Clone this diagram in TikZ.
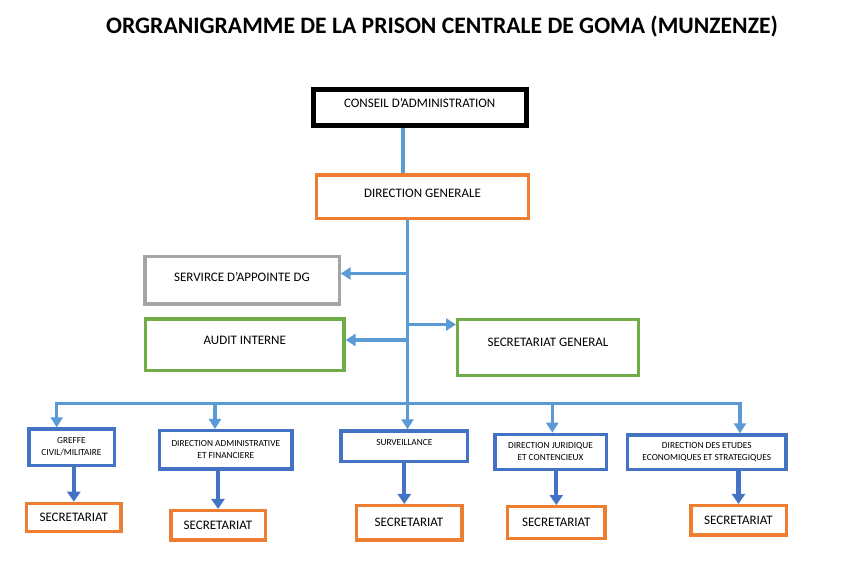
\documentclass[tikz,border=0pt]{standalone}
\usepackage{fontspec}
\setmainfont{Carlito}
\usetikzlibrary{arrows.meta}
\definecolor{bleuclair}{HTML}{5B9BD5}
\definecolor{bleufonce}{HTML}{4472C4}
\definecolor{orange}{HTML}{ED7D31}
\definecolor{vert}{HTML}{70AD47}
\definecolor{gris}{HTML}{A5A5A5}
\tikzset{boite/.style={draw,rectangle,inner sep=0pt,line width=3.2pt,align=center,font=\fontsize{13}{15}\selectfont}}

\begin{document}
\begin{tikzpicture}[x=1pt,y=-1pt,
    petite/.style={font=\fontsize{9.3}{12}\selectfont},
    haut/.style={text height=8.4pt,text depth=#1},
    lien/.style={draw=bleuclair,line width=3.2pt,line cap=rect},
    fleche/.style={draw=bleuclair,line width=3.2pt,-{Triangle[width=12pt,length=10pt]}},
    grosse/.style={draw=bleufonce,line width=4.2pt,-{Triangle[width=13pt,length=10pt]}}]
    \useasboundingbox (0,0) rectangle (862,573);
    \node[anchor=base,font=\fontsize{23.6}{26}\selectfont\bfseries] (titre) at (442,33.3)
        {ORGRANIGRAMME DE LA PRISON CENTRALE DE GOMA (MUNZENZE)};
    % sommet
    \node[boite,line width=5pt,minimum width=213,minimum height=36.6,haut=9pt] (conseil) at (419.7,107.5) {CONSEIL D’ADMINISTRATION};
    \node[boite,draw=orange,minimum width=211.8,minimum height=43.5,haut=7pt] (dg) at (422.5,196.7) {DIRECTION GENERALE};
    % services rattaches
    \node[boite,draw=gris,minimum width=194.2,minimum height=47.5,haut=6pt] (appui) at (242,280.3) {SERVIRCE D’APPOINTE DG};
    \node[boite,draw=vert,minimum width=198.5,minimum height=51.8,haut=9pt] (audit) at (244.8,344.8) {AUDIT INTERNE};
    \node[boite,draw=vert,minimum width=180.8,minimum height=55.8,haut=10pt] (sg) at (548,347.2) {SECRETARIAT GENERAL};
    % directions
    \node[boite,petite,draw=bleufonce,minimum width=85.2,minimum height=36.2] (greffe) at (71.5,447) {GREFFE\\CIVIL/MILITAIRE};
    \node[boite,petite,draw=bleufonce,minimum width=132.5,minimum height=38.5] (daf) at (225.8,449.8) {DIRECTION ADMINISTRATIVE\\ET FINANCIERE};
    \node[boite,petite,draw=bleufonce,minimum width=126.8,minimum height=30.8,text height=6pt,text depth=8.6pt] (surv) at (404.3,446.3) {SURVEILLANCE};
    \node[boite,petite,draw=bleufonce,minimum width=111.2,minimum height=34.8] (djc) at (550.5,451.7) {DIRECTION JURIDIQUE\\ET CONTENCIEUX};
    \node[boite,petite,draw=bleufonce,minimum width=158.5,minimum height=34.2] (dees) at (706.8,452) {DIRECTION DES ETUDES\\ECONOMIQUES ET STRATEGIQUES};
    % secretariats
    \node[boite,draw=orange,minimum width=94.5,minimum height=27.8] (s1) at (73.8,517.2) {SECRETARIAT};
    \node[boite,draw=orange,minimum width=94.2,minimum height=29.5] (s2) at (218,525.3) {SECRETARIAT};
    \node[boite,draw=orange,minimum width=105.8,minimum height=34.5] (s3) at (409,522.8) {SECRETARIAT};
    \node[boite,draw=orange,minimum width=97.5,minimum height=31.8] (s4) at (556.3,522.5) {SECRETARIAT};
    \node[boite,draw=orange,minimum width=95.2,minimum height=29.5] (s5) at (738.5,520.3) {SECRETARIAT};
    % axes et embranchements
    \coordinate (axeh) at (403,0);
    \coordinate (axe) at (407.5,0);
    \coordinate (b1) at (407.5,273.5);
    \coordinate (b2) at (407.5,340);
    \coordinate (b3) at (407.5,324.5);
    \coordinate (bg) at (56.7,403.7);
    \coordinate (b4) at (215,403.7);
    \coordinate (b5) at (552.3,403.7);
    \coordinate (bd) at (740,403.7);
    \draw[lien,line cap=butt] (conseil.south -| axeh) -- (dg.north -| axeh);
    \draw[fleche] (dg.south -| axe) -- (surv.north -| axe);
    \draw[fleche] (b1) -- (b1 -| appui.east);
    \draw[fleche] (b2) -- (b2 -| audit.east);
    \draw[fleche] (b3) -- (b3 -| sg.west);
    \draw[lien] (bg) -- (bd);
    \draw[fleche] (bg) -- (bg |- greffe.north);
    \draw[fleche] (b4) -- (b4 |- daf.north);
    \draw[fleche] (b5) -- (b5 |- djc.north);
    \draw[fleche] (bd) -- (bd |- dees.north);
    % vers les secretariats
    \draw[grosse] (greffe.south -| s1) -- (s1.north);
    \draw[grosse] (daf.south -| s2) -- (s2.north);
    \draw[grosse] (surv.south) -- (surv.south |- s3.north);
    \draw[grosse] (djc.south -| s4) -- (s4.north);
    \draw[grosse] (dees.south -| s5) -- (s5.north);
\end{tikzpicture}
\end{document}
